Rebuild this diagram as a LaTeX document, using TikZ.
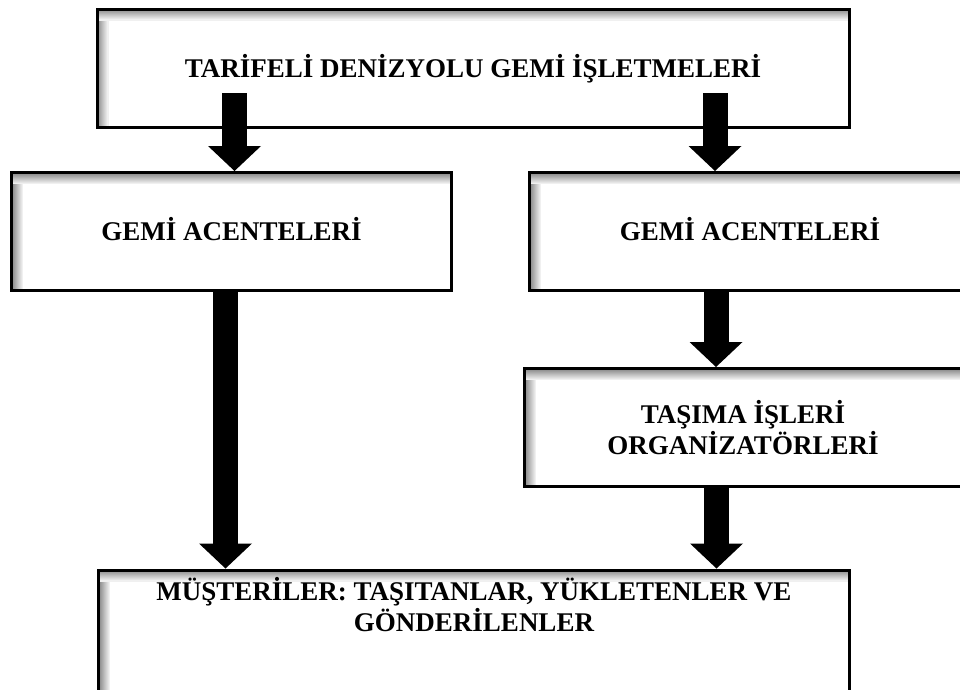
\documentclass[tikz,border=0pt]{standalone}
\usepackage{fontspec}
\setmainfont{Liberation Serif}
\usetikzlibrary{arrows.meta}

\tikzset{
  kutu/.style={draw, line width=3pt, fill=white, align=center,
    font=\fontsize{27}{31}\selectfont\bfseries,
    minimum height=118pt, inner sep=0pt,
    path picture={
      \foreach \i in {0,...,11}{
        \pgfmathtruncatemacro\ton{50-4*\i}
        \draw[black!\ton, line width=1.2pt]
          ([yshift=-\i pt]path picture bounding box.north west) -- ([yshift=-\i pt]path picture bounding box.north east);
        \draw[black!\ton, line width=1.2pt]
          ([xshift=\i pt, yshift=-\i pt]path picture bounding box.north west) -- ([xshift=\i pt]path picture bounding box.south west);
      }
    }},
  tekyazi/.style={text height=18pt, text depth=0pt},
  kalinok/.style={line width=25pt, -{Triangle[length=25pt, width=53pt, line width=0pt]}}
}

\begin{document}
\begin{tikzpicture}[x=1pt, y=-1pt]

\useasboundingbox (0,0) rectangle (960,689);
\clip (0,0) rectangle (960,689);

% kutular
\node[kutu, tekyazi, minimum width=752pt] (ust) at (473,68) {TARİFELİ DENİZYOLU GEMİ İŞLETMELERİ};
\node[kutu, tekyazi, minimum width=440pt] (acente1) at (231.5,231.5) {GEMİ ACENTELERİ};
\node[kutu, tekyazi, minimum width=441pt] (acente2) at (750,231.5) {GEMİ ACENTELERİ};
\node[kutu, minimum width=437pt] (tasima) at (743,427.5) {TAŞIMA İŞLERİ\\ORGANİZATÖRLERİ};
\node[kutu, minimum width=751pt, minimum height=130pt, anchor=north] (musteri) at (474,568.5) {};
\node[align=center, inner sep=0pt, font=\fontsize{27}{31}\selectfont\bfseries] (musteriyazi) at (474,605)
  {MÜŞTERİLER: TAŞITANLAR, YÜKLETENLER VE\\GÖNDERİLENLER};

% oklar
\coordinate (b1) at (234.5,93);
\coordinate (b2) at (715,93);
\coordinate (b3) at ([xshift=-34pt]acente2.south);
\coordinate (b4) at ([xshift=-26.5pt]tasima.south);
\coordinate (b5) at ([xshift=-6pt]acente1.south);

\draw[kalinok] (b1) -- (b1 |- acente1.north);
\draw[kalinok] (b2) -- (b2 |- acente2.north);
\draw[kalinok] (b3) -- (b3 |- tasima.north);
\draw[kalinok] (b4) -- (b4 |- musteri.north);
\draw[kalinok] (b5) -- (b5 |- musteri.north);

\end{tikzpicture}
\end{document}
